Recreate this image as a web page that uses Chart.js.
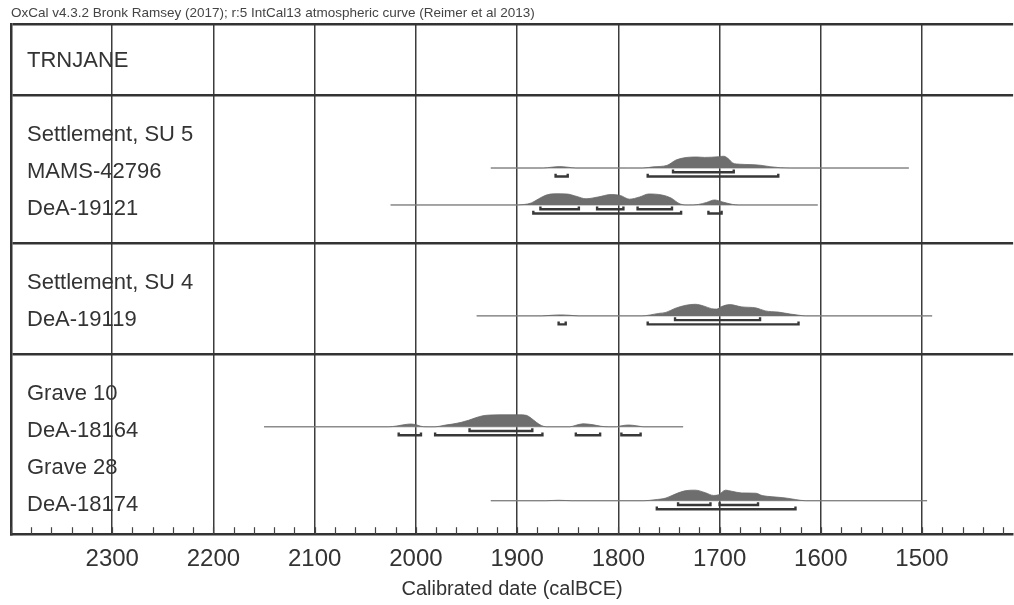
<!DOCTYPE html>
<html>
<head>
<meta charset="utf-8">
<script src="https://cdn.jsdelivr.net/npm/chart.js@4.4.0/dist/chart.umd.min.js"></script>
<style>
    html, body { margin: 0; padding: 0; background: #fff; }
    #wrap { width: 1014px; height: 605px; }
</style>
</head>
<body>
<div id="wrap"><canvas id="oxcal" width="1014" height="605"></canvas></div>
<script>
// row labels and where they sit (slot index, top to bottom)
const rowLabels = ['TRNJANE', 'Settlement, SU 5', 'MAMS-42796', 'DeA-19121', 'Settlement, SU 4',
    'DeA-19119', 'Grave 10', 'DeA-18164', 'Grave 28', 'DeA-18174'];
const rowSlots = [0, 2, 3, 4, 6, 7, 9, 10, 11, 12];
const separatorSlots = [1, 5, 8];

// x axis (calBCE)
const majorYears = [2300, 2200, 2100, 2000, 1900, 1800, 1700, 1600, 1500];
const headerText = 'OxCal v4.3.2 Bronk Ramsey (2017); r:5 IntCal13 atmospheric curve (Reimer et al 2013)';
const axisTitle = 'Calibrated date (calBCE)';

// MAMS-42796
const mamsYears = [1926, 1874, 1866, 1858, 1850, 1842, 1790, 1776, 1765, 1752, 1743, 1736, 1730, 1722, 1715, 1708, 1701, 1696, 1691, 1687, 1680, 1670, 1660, 1650, 1640, 1630, 1513];
const mamsDensity = [0, 0, 0.8, 1.4, 0.8, 0, 0, 0, 1.2, 2.6, 8, 10, 10.8, 11, 10.6, 10.8, 11.3, 11.8, 9, 5, 3.8, 3.4, 2.8, 1.3, 0.3, 0, 0];
const mamsSpan = [1926, 1513];
const mams68 = [[1746, 1686]];
const mams95 = [[1862, 1850], [1771, 1642]];

// DeA-19121
const dea19121Years = [2025, 1905, 1893, 1886, 1879, 1871, 1863, 1851, 1841, 1832, 1820, 1807, 1798, 1789, 1779, 1770, 1757, 1748, 1739, 1731, 1721, 1713, 1705, 1697, 1687, 1681, 1603];
const dea19121Density = [0, 0, 0.5, 2, 6, 10, 11.2, 11, 8.5, 6.2, 8, 10.5, 9.5, 5.8, 8, 11, 10, 7, 1, 0, 0.5, 2.5, 5, 3, 0.5, 0, 0];
const dea19121Span = [2025, 1603];
const dea19121_68 = [[1877, 1839], [1821, 1795], [1781, 1747]];
const dea19121_95 = [[1884, 1738], [1711, 1698]];

// DeA-19119
const dea19119Years = [1940, 1876, 1866, 1857, 1848, 1839, 1777, 1760, 1753, 1744, 1733, 1724, 1716, 1708, 1703, 1698, 1690, 1678, 1664, 1655, 1642, 1630, 1622, 1615, 1490];
const dea19119Density = [0, 0, 0.6, 1, 0.6, 0, 0, 2.5, 3.5, 7.5, 10.7, 11.6, 10, 7.2, 6.8, 9.3, 11.3, 9, 8, 5, 3.8, 1.8, 0.7, 0, 0];
const dea19119Span = [1940, 1490];
const dea19119_68 = [[1744, 1660]];
const dea19119_95 = [[1859, 1852], [1771, 1622]];

// DeA-18164
const dea18164Years = [2150, 2027, 2019, 2011, 2005, 1999, 1995, 1990, 1981, 1972, 1964, 1955, 1948, 1941, 1934, 1926, 1910, 1898, 1891, 1886, 1881, 1876, 1871, 1848, 1842, 1835, 1826, 1817, 1810, 1802, 1797, 1790, 1782, 1775, 1736];
const dea18164Density = [0, 0, 0.8, 2.2, 2.8, 1.8, 0.5, 0, 0, 1.5, 2.7, 4.5, 6.5, 9, 11, 11.8, 12, 12, 11.5, 8.5, 4.5, 1.2, 0, 0, 1.5, 3, 2.2, 0.5, 0, 0, 1, 1.8, 1, 0, 0];
const dea18164Span = [2150, 1736];
const dea18164_68 = [[1947, 1885]];
const dea18164_95 = [[2017, 1995], [1981, 1875], [1842, 1818], [1797, 1778]];

// DeA-18174
const dea18174Years = [1926, 1872, 1859, 1846, 1775, 1764, 1753, 1743, 1734, 1724, 1714, 1706, 1701, 1694, 1688, 1678, 1664, 1658, 1648, 1635, 1625, 1615, 1495];
const dea18174Density = [0, 0, 0.5, 0, 0, 1, 2.7, 7, 10, 10.6, 8, 5.3, 6, 10.6, 9.5, 7.8, 7.5, 5.2, 4, 2.8, 1.2, 0, 0];
const dea18174Span = [1926, 1495];
const dea18174_68 = [[1741, 1709], [1700, 1662]];
const dea18174_95 = [[1762, 1625]];

const samples = [
    { slot: 3, years: mamsYears, density: mamsDensity, span: mamsSpan, r68: mams68, r95: mams95 },
    { slot: 4, years: dea19121Years, density: dea19121Density, span: dea19121Span, r68: dea19121_68, r95: dea19121_95 },
    { slot: 7, years: dea19119Years, density: dea19119Density, span: dea19119Span, r68: dea19119_68, r95: dea19119_95 },
    { slot: 10, years: dea18164Years, density: dea18164Density, span: dea18164Span, r68: dea18164_68, r95: dea18164_95 },
    { slot: 12, years: dea18174Years, density: dea18174Density, span: dea18174Span, r68: dea18174_68, r95: dea18174_95 }
];

const FONT = "'Liberation Sans', Arial, Helvetica, sans-serif";
const HEIGHT = 1 / 37;     // density units -> row slots
const BASE_SHIFT = -0.035;
const BAR68 = 0.115, BAR95 = 0.23, CAP = 0.075;

const bracketPoints = (ranges, y) => {
    let pts = [];
    ranges.forEach(r => {
        pts.push({ x: r[0], y: y - CAP }, { x: r[0], y: y }, { x: r[1], y: y }, { x: r[1], y: y - CAP }, { x: r[1], y: null });
    });
    return pts;
}

let datasets = [];
samples.forEach(s => {
    const base = s.slot + BASE_SHIFT;
    datasets.push({
        data: s.years.map((yr, i) => ({ x: yr, y: base - s.density[i] * HEIGHT })),
        fill: { value: base },
        backgroundColor: '#6e6e6e',
        borderColor: '#686868',
        borderWidth: 0.8,
        pointRadius: 0,
        cubicInterpolationMode: 'monotone',
        order: 2
    });
    datasets.push({
        data: [{ x: s.span[0], y: base }, { x: s.span[1], y: base }],
        borderColor: '#9a9a9a',
        borderWidth: 1,
        pointRadius: 0,
        fill: false,
        order: 3
    });
    datasets.push({
        data: bracketPoints(s.r68, base + BAR68),
        borderColor: '#383838',
        borderWidth: 2.4,
        pointRadius: 0,
        fill: false,
        spanGaps: false,
        order: 1
    });
    datasets.push({
        data: bracketPoints(s.r95, base + BAR95),
        borderColor: '#383838',
        borderWidth: 2.4,
        pointRadius: 0,
        fill: false,
        spanGaps: false,
        order: 1
    });
});

// every 20 years a small tick, every 100 a grid line
let tickValues = [];
for (let v = 2400; v > 1410; v -= 20) tickValues.push(v);

const oxcalDecor = {
    id: 'oxcalDecor',
    afterDatasetsDraw(chart) {
        const c = chart.ctx;
        const area = chart.chartArea;
        const xs = chart.scales.x, ys = chart.scales.y;
        c.save();
        c.strokeStyle = '#444';
        c.lineWidth = 1.2;
        xs.ticks.forEach(t => {
            const px = Math.round(xs.getPixelForValue(t.value)) + 0.5;
            c.beginPath();
            c.moveTo(px, area.bottom);
            c.lineTo(px, area.bottom - 7);
            c.stroke();
        });
        c.fillStyle = '#333';
        c.font = '22px ' + FONT;
        c.textBaseline = 'middle';
        rowLabels.forEach((lbl, i) => {
            c.fillText(lbl, area.left + 16, ys.getPixelForValue(rowSlots[i]) + 3);
        });
        c.fillStyle = '#444';
        c.font = '13.5px ' + FONT;
        c.fillText(headerText, area.left, 13);
        c.restore();
    }
};

new Chart(document.getElementById('oxcal'), {
    type: 'line',
    data: { datasets: datasets },
    options: {
        responsive: false,
        devicePixelRatio: 1,
        animation: false,
        parsing: true,
        layout: { padding: { left: 11, top: 24, right: 0, bottom: 4 } },
        plugins: { legend: { display: false }, tooltip: { enabled: false } },
        scales: {
            x: {
                type: 'linear',
                reverse: true,
                min: 1410,
                max: 2400,
                afterBuildTicks: axis => { axis.ticks = tickValues.map(v => ({ value: v })); },
                ticks: {
                    autoSkip: false,
                    maxRotation: 0,
                    padding: 11,
                    color: '#333',
                    font: { family: FONT, size: 24 },
                    callback: v => majorYears.includes(v) ? String(v) : ''
                },
                grid: {
                    drawTicks: false,
                    lineWidth: 1.5,
                    color: ctx => (ctx.tick && ctx.tick.value % 100 === 0) ? '#3c3c3c' : 'rgba(0,0,0,0)'
                },
                border: { display: true, color: '#333', width: 2.5 },
                title: {
                    display: true,
                    text: axisTitle,
                    color: '#333',
                    font: { family: FONT, size: 20 },
                    padding: { top: -8, bottom: 0 }
                }
            },
            y: {
                type: 'linear',
                reverse: true,
                min: -0.93,
                max: 12.87,
                afterBuildTicks: axis => { axis.ticks = [-0.93].concat(separatorSlots).map(v => ({ value: v })); },
                ticks: { display: false },
                grid: { drawTicks: false, color: '#333', lineWidth: 2.5 },
                border: { display: true, color: '#333', width: 2.5 }
            }
        }
    },
    plugins: [oxcalDecor]
});
</script>
</body>
</html>
